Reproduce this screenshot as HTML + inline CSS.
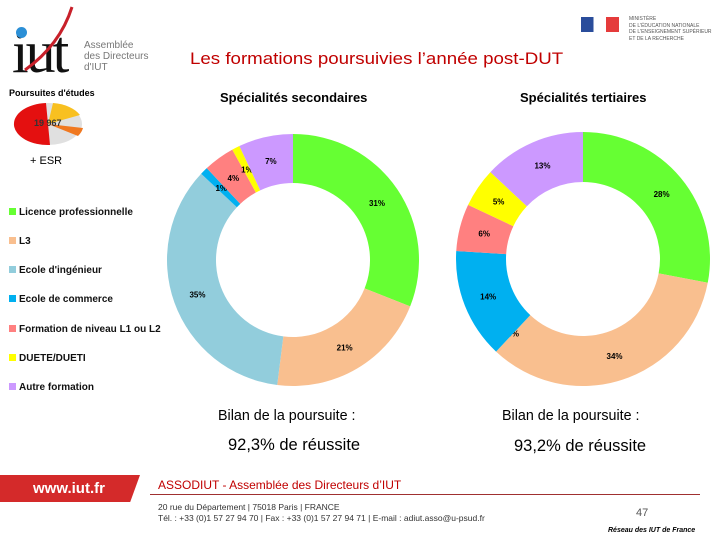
<!DOCTYPE html>
<html><head><meta charset="utf-8"><style>
body{margin:0;width:720px;height:540px;background:#fff;position:relative;overflow:hidden;font-family:"Liberation Sans",sans-serif}
.a{position:absolute;white-space:nowrap}
.lg{position:absolute;left:9px;font-size:10px;font-weight:bold;color:#111}
.lg span{display:inline-block;width:7px;height:7px;margin-right:3px}
</style></head><body>
<div class="a" style="left:12px;top:18px;font-family:'Liberation Serif',serif;font-size:60px;color:#111;letter-spacing:-3px">iut</div>
<div class="a" style="left:16px;top:27px;width:11px;height:11px;border-radius:50%;background:#2b8fd6"></div>
<svg class="a" style="left:20px;top:5px" width="60" height="70"><path d="M5 65 Q40 40 52 2" stroke="#c8202a" stroke-width="3" fill="none"/></svg>
<div class="a" style="left:84px;top:40px;font-size:10px;line-height:11px;color:#777">Assemblée<br>des Directeurs<br>d'IUT</div>
<div class="a" style="left:581px;top:17px;width:38px;height:15px;background:linear-gradient(90deg,#2a4d9b 33%,#fff 33% 66%,#e53b3b 66%)"></div>
<div class="a" style="left:629px;top:16px;font-size:5px;line-height:6.5px;color:#555">MINISTÈRE<br>DE L'ÉDUCATION NATIONALE<br>DE L'ENSEIGNEMENT SUPÉRIEUR<br>ET DE LA RECHERCHE</div>
<div class="a" style="left:190px;top:49px;font-size:17px;color:#c00000;transform:scaleX(1.1);transform-origin:left top">Les formations poursuivies l’année post-DUT</div>
<div class="a" style="left:9px;top:88px;font-size:9px;font-weight:bold">Poursuites d'études</div>
<svg class="a" style="left:8px;top:100px" width="80" height="50">
<ellipse cx="40" cy="24" rx="34" ry="21" fill="#e0e0e0"/>
<path d="M40 24 L38 3 A34 21 0 0 0 42 45 Z" fill="#e41010"/>
<path d="M40 24 L45 3 A34 21 0 0 1 72 15 Z" fill="#f8c020"/>
<path d="M40 24 L75 28 A34 21 0 0 1 70 36 Z" fill="#f07820"/>
<text x="26" y="26" font-size="9" font-weight="bold" fill="#333">19 967</text></svg>
<div class="a" style="left:30px;top:155px;font-size:11px">+ ESR</div>
<div class="lg" style="top:207px"><span style="background:#66ff33"></span>Licence professionnelle</div>
<div class="lg" style="top:236px"><span style="background:#f9bf8f"></span>L3</div>
<div class="lg" style="top:265px"><span style="background:#92cddc"></span>Ecole d'ingénieur</div>
<div class="lg" style="top:294px"><span style="background:#00b0f0"></span>Ecole de commerce</div>
<div class="lg" style="top:324px"><span style="background:#ff8080"></span>Formation de niveau L1 ou L2</div>
<div class="lg" style="top:353px"><span style="background:#ffff00"></span>DUETE/DUETI</div>
<div class="lg" style="top:382px"><span style="background:#cc99ff"></span>Autre formation</div>
<div class="a" style="left:220px;top:90px;font-size:13px;font-weight:bold">Spécialités secondaires</div>
<div class="a" style="left:520px;top:90px;font-size:13px;font-weight:bold">Spécialités tertiaires</div>
<svg id="ch" class="a" style="left:0;top:0" width="720" height="400"></svg>
<div class="a" style="left:218px;top:408px;font-size:14.3px">Bilan de la poursuite :</div>
<div class="a" style="left:228px;top:436px;font-size:16.5px">92,3% de réussite</div>
<div class="a" style="left:502px;top:408px;font-size:14.3px">Bilan de la poursuite :</div>
<div class="a" style="left:514px;top:437px;font-size:16.5px">93,2% de réussite</div>
<div class="a" style="left:0;top:475px;width:140px;height:27px;background:#d42a2a;clip-path:polygon(0 0,100% 0,93% 100%,0 100%)"></div>
<div class="a" style="left:33px;top:480px;font-size:15px;font-weight:bold;color:#fff">www.iut.fr</div>
<div class="a" style="left:158px;top:478px;font-size:12px;color:#c00000">ASSODIUT - Assemblée des Directeurs d’IUT</div>
<div class="a" style="left:150px;top:494px;width:550px;height:1px;background:#a03030"></div>
<div class="a" style="left:158px;top:502px;font-size:8.5px;line-height:11px;color:#333">20 rue du Département | 75018 Paris | FRANCE<br>Tél. : +33 (0)1 57 27 94 70 | Fax : +33 (0)1 57 27 94 71 | E-mail : adiut.asso@u-psud.fr</div>
<div class="a" style="left:636px;top:507px;font-size:11px;color:#555">47</div>
<div class="a" style="left:608px;top:527px;font-size:7px;font-weight:bold;font-style:italic">Réseau des IUT de France</div>
<script>
const categories=["Licence professionnelle","L3","Ecole d'ingénieur","Ecole de commerce","Formation L1/L2","DUETE/DUETI","Autre formation"];
const colors=["#66ff33","#f9bf8f","#92cddc","#00b0f0","#ff8080","#ffff00","#cc99ff"];
const secondaires=[31,21,35,1,4,1,7];
const tertiaires=[28,34,0,14,6,5,13];
const svg=document.getElementById('ch');const NS="http://www.w3.org/2000/svg";
function donut(vals,cx,cy,R,r,name){
 const tot=vals.reduce((a,b)=>a+b,0);let a0=0;
 vals.forEach((v,i)=>{const a1=a0+v/tot*2*Math.PI;
  if(v>0){const p=(a,rr)=>[cx+rr*Math.sin(a),cy-rr*Math.cos(a)];
  const [x1,y1]=p(a0,R),[x2,y2]=p(a1,R),[x3,y3]=p(a1,r),[x4,y4]=p(a0,r);const lg=(a1-a0)>Math.PI?1:0;
  const path=document.createElementNS(NS,'path');
  path.setAttribute('d',`M${x1} ${y1}A${R} ${R} 0 ${lg} 1 ${x2} ${y2}L${x3} ${y3}A${r} ${r} 0 ${lg} 0 ${x4} ${y4}Z`);
  path.setAttribute('fill',colors[i]);
  
  
  svg.appendChild(path);}
  const m=(a0+a1)/2,lr=(R+r)/2;
  const t=document.createElementNS(NS,'text');
  t.setAttribute('x',cx+lr*Math.sin(m));t.setAttribute('y',cy-lr*Math.cos(m)+3);
  t.setAttribute('font-size','8');t.setAttribute('font-weight','bold');t.setAttribute('text-anchor','middle');
  t.textContent=v+'%';
  
  
  svg.appendChild(t);a0=a1;});
}
donut(secondaires,293,260,126,77,'secondaires');
donut(tertiaires,583,259,127,77,'tertiaires');
</script>
</body></html>
